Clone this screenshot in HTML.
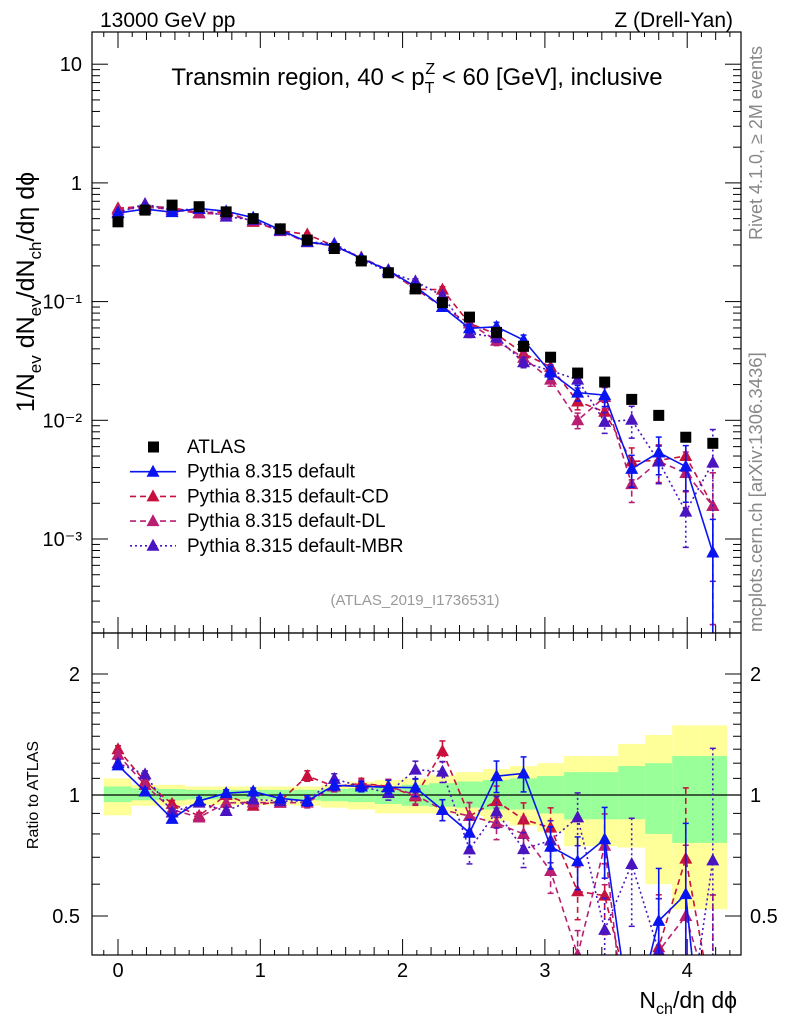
<!DOCTYPE html>
<html><head><meta charset="utf-8">
<style>
html,body{margin:0;padding:0;background:#fff;overflow:hidden;width:786px;height:1024px;}
svg{display:block;font-family:"Liberation Sans",sans-serif;}
</style></head>
<body>
<svg id="chart" width="786" height="1024" viewBox="0 0 786 1024" xmlns="http://www.w3.org/2000/svg">
<defs>
<clipPath id="cm"><rect x="92" y="32" width="649" height="601"/></clipPath>
<clipPath id="cr"><rect x="92" y="633" width="649" height="322"/></clipPath>
</defs>
<text x="100" y="27" font-size="21">13000 GeV pp</text>
<text x="733" y="27" font-size="21" text-anchor="end">Z (Drell-Yan)</text>
<text x="417" y="85" font-size="24" text-anchor="middle">Transmin region, 40 &lt; p<tspan font-size="16" dy="8">T</tspan><tspan font-size="16" dx="-9" dy="-19">Z</tspan><tspan dy="11"> &lt; 60 [GeV], inclusive</tspan></text>
<text transform="translate(762,240) rotate(-90)" font-size="18" fill="#888">Rivet 4.1.0, ≥ 2M events</text>
<text transform="translate(762,632) rotate(-90)" font-size="18.5" fill="#888">mcplots.cern.ch [arXiv:1306.3436]</text>
<text x="415" y="605" font-size="15" fill="#999" text-anchor="middle">(ATLAS_2019_I1736531)</text>
<text transform="translate(34,292) rotate(-90)" font-size="25" text-anchor="middle">1/N<tspan font-size="17" dy="7">ev</tspan><tspan dy="-7"> dN</tspan><tspan font-size="17" dy="7">ev</tspan><tspan dy="-7">/dN</tspan><tspan font-size="17" dy="7">ch</tspan><tspan dy="-7">/dη dϕ</tspan></text>
<text transform="translate(38,795) rotate(-90)" font-size="16" text-anchor="middle">Ratio to ATLAS</text>
<text x="737" y="1008" font-size="23" text-anchor="end">N<tspan font-size="16" dy="6">ch</tspan><tspan dy="-6">/dη dϕ</tspan></text>
<g id="bands" clip-path="url(#cr)"></g>
<g id="grid"></g>
<g id="mainMarks" clip-path="url(#cm)"></g>
<g id="ratioMarks" clip-path="url(#cr)"></g>
<rect x="92" y="32" width="649" height="601" fill="none" stroke="#000" stroke-width="1.2"/>
<rect x="92" y="633" width="649" height="322" fill="none" stroke="#000" stroke-width="1.2"/>
<g id="legend"></g>
</svg>
<script>
const xVals = [0,0.19,0.38,0.57,0.76,0.95,1.14,1.33,1.52,1.71,1.90,2.09,2.28,2.47,2.66,2.85,3.04,3.23,3.42,3.61,3.80,3.99,4.18];
const atlasVals = [0.47,0.59,0.65,0.63,0.57,0.50,0.41,0.33,0.28,0.22,0.175,0.128,0.098,0.074,0.055,0.042,0.034,0.025,0.021,0.015,0.011,0.0072,0.0064];
const defaultVals = [0.557,0.602,0.567,0.609,0.576,0.51,0.402,0.319,0.296,0.231,0.183,0.1335,0.090,0.0596,0.0613,0.0475,0.0253,0.0171,0.0163,0.0039,0.00535,0.00408,0.00077];
const cdVals = [0.611,0.637,0.618,0.559,0.57,0.47,0.396,0.368,0.294,0.235,0.184,0.127,0.126,0.0656,0.0531,0.0365,0.0282,0.0144,0.0118,0.0045,0.0046,0.0050,0.0019];
const dlVals = [0.592,0.625,0.598,0.554,0.545,0.479,0.392,0.316,0.294,0.233,0.184,0.128,0.090,0.0656,0.0468,0.0336,0.022,0.010,0.0157,0.0029,0.0045,0.0036,0.0019];
const mbrVals = [0.564,0.664,0.588,0.603,0.52,0.4875,0.396,0.319,0.307,0.231,0.177,0.148,0.112,0.0542,0.050,0.0308,0.0262,0.022,0.0097,0.0101,0.0045,0.0017,0.0044];
const modelRelErr = [0.02,0.02,0.02,0.02,0.02,0.02,0.02,0.03,0.03,0.03,0.04,0.05,0.06,0.08,0.09,0.10,0.12,0.15,0.2,0.3,0.35,0.5,0.9];
const binEdges = [-0.1,0.095,0.285,0.475,0.665,0.855,1.045,1.235,1.425,1.615,1.805,1.995,2.185,2.375,2.565,2.755,2.945,3.135,3.325,3.515,3.705,3.895,4.085,4.28];
const totUp = [1.10,1.06,1.06,1.05,1.05,1.05,1.05,1.05,1.06,1.08,1.09,1.10,1.12,1.14,1.16,1.18,1.20,1.25,1.25,1.34,1.41,1.49,1.49];
const totDn = [0.89,0.94,0.94,0.945,0.945,0.945,0.945,0.94,0.93,0.92,0.90,0.90,0.90,0.887,0.86,0.84,0.81,0.746,0.746,0.74,0.60,0.52,0.52];
const statUp = [1.05,1.04,1.035,1.03,1.03,1.03,1.03,1.03,1.035,1.04,1.05,1.06,1.07,1.08,1.09,1.10,1.115,1.14,1.14,1.18,1.20,1.25,1.25];
const statDn = [0.96,0.97,0.97,0.975,0.975,0.975,0.975,0.97,0.965,0.96,0.95,0.94,0.935,0.93,0.92,0.92,0.90,0.87,0.87,0.87,0.80,0.76,0.76];
const mainTickLabels = ["10⁻³","10⁻²","10⁻¹","1","10"];
const ratioTickLabels = ["0.5","1","2"];
const xTickLabels = ["0","1","2","3","4"];

const NS="http://www.w3.org/2000/svg";
function mk(tag,attrs,parent){const e=document.createElementNS(NS,tag);for(const k in attrs)e.setAttribute(k,attrs[k]);parent.appendChild(e);return e;}
const xp=v=>118+v*142.3;
const ym=v=>539-(Math.log10(Math.max(v,1e-6))+3)*118.7;
const yr=r=>795-Math.log10(Math.max(r,1e-3))*402;

const bands=document.getElementById('bands');
for(let i=0;i<totUp.length;i++){
  const x0=xp(binEdges[i]),x1=xp(binEdges[i+1]);
  let r=mk('rect',{x:x0,y:yr(totUp[i]),width:x1-x0,height:yr(totDn[i])-yr(totUp[i]),fill:'#ffff99'},bands);
  
  
}
for(let i=0;i<statUp.length;i++){
  const x0=xp(binEdges[i]),x1=xp(binEdges[i+1]);
  let r=mk('rect',{x:x0,y:yr(statUp[i]),width:x1-x0,height:yr(statDn[i])-yr(statUp[i]),fill:'#99ff99'},bands);
  
  
}
let one=mk('line',{x1:92,x2:741,y1:yr(1),y2:yr(1),stroke:'#000','stroke-width':1.2},bands);



const g=document.getElementById('grid');
function tick(x1,y1,x2,y2){mk('line',{x1,y1,x2,y2,stroke:'#000','stroke-width':1},g);}
for(let d=-4;d<=1;d++){
  for(let m=1;m<=9;m++){
    const v=m*Math.pow(10,d);const y=ym(v);
    if(y<32||y>633)continue;
    const L=m===1?16:8;
    tick(92,y,92+L,y);tick(741,y,741-L,y);
  }
}
mainTickLabels.forEach((t,i)=>{
  const v=Math.pow(10,i-3);
  const tx=mk('text',{x:82,y:ym(v)+7,'font-size':20,'text-anchor':'end'},g);
  tx.textContent=t;
  
  
});
[0.4,0.5,0.6,0.7,0.8,0.9,1,1.1,1.2,1.3,1.4,1.5,1.6,1.7,1.8,1.9,2].forEach(r=>{
  const y=yr(r);const L=(r===0.5||r===1||r===2)?16:8;
  tick(92,y,92+L,y);tick(741,y,741-L,y);
});
ratioTickLabels.forEach(t=>{
  const r=parseFloat(t);
  const a=mk('text',{x:80,y:yr(r)+7,'font-size':20,'text-anchor':'end'},g);a.textContent=t;
  
  
  const b=mk('text',{x:750,y:yr(r)+7,'font-size':20},g);b.textContent=t;
  
  
});
for(let k=-0.1;k<=4.35;k+=0.1){
  const v=Math.round(k*10)/10;const x=xp(v);
  if(x<92||x>741)continue;
  const major=Math.abs(v-Math.round(v))<1e-6;
  const L=major?16:(Math.abs(v*5-Math.round(v*5))<1e-6?8:5);
  tick(x,633,x,633-L);tick(x,32,x,32+L);tick(x,955,x,955-L);tick(x,633,x,633+L);
}
xTickLabels.forEach(t=>{
  const tx=mk('text',{x:xp(parseFloat(t)),y:977,'font-size':20,'text-anchor':'middle'},g);
  tx.textContent=t;
  
  
});

const series=[
 {vals:cdVals,color:'#c8103c',dash:'6,4',name:'cd'},
 {vals:dlVals,color:'#b81f72',dash:'6,4',name:'dl'},
 {vals:mbrVals,color:'#4a14c0',dash:'2,3',name:'mbr'},
 {vals:defaultVals,color:'#0a14f0',dash:'',name:'default'}
];
const mm=document.getElementById('mainMarks'),rm=document.getElementById('ratioMarks');
function tri(x,y,c,p){return mk('polygon',{points:`${x},${y-7} ${x-6.5},${y+5} ${x+6.5},${y+5}`,fill:c},p);}
series.forEach(s=>{
  [[mm,ym],[rm,yr]].forEach(([par,yf],pi)=>{
    const ys=s.vals.map((v,i)=>pi===0?yf(v):yf(v/atlasVals[i]));
    const pts=xVals.map((x,i)=>xp(x)+','+ys[i]).join(' ');
    const pl=mk('polyline',{points:pts,fill:'none',stroke:s.color,'stroke-width':1.6,'stroke-dasharray':s.dash},par);
    
    
    xVals.forEach((x,i)=>{
      const v=pi===0?s.vals[i]:s.vals[i]/atlasVals[i];
      const e=modelRelErr[i];
      const y1=yf(v*(1+e)),y2=yf(Math.max(v*(1-e),1e-6));
      const X=xp(x);
      const eb=mk('line',{x1:X,x2:X,y1:y1,y2:y2,stroke:s.color,'stroke-width':1.6,'stroke-dasharray':s.dash},par);
      
      
      mk('line',{x1:X-3,x2:X+3,y1:y1,y2:y1,stroke:s.color,'stroke-width':1.5},par);
      mk('line',{x1:X-3,x2:X+3,y1:y2,y2:y2,stroke:s.color,'stroke-width':1.5},par);
      const t=tri(X,yf(v),s.color,par);
      
      
    });
  });
});
atlasVals.forEach((v,i)=>{
  const r=mk('rect',{x:xp(xVals[i])-5.5,y:ym(v)-5.5,width:11,height:11,fill:'#000'},mm);
  
  
});

const lg=document.getElementById('legend');
const leg=[['ATLAS',null],['Pythia 8.315 default',series[3]],['Pythia 8.315 default-CD',series[0]],['Pythia 8.315 default-DL',series[1]],['Pythia 8.315 default-MBR',series[2]]];
leg.forEach((l,i)=>{
  const y=447+i*24.7;
  const ge=mk('g',{},lg);
  
  
  if(!l[1]){mk('rect',{x:148,y:y-5.5,width:11,height:11,fill:'#000'},ge);}
  else{mk('line',{x1:130,x2:176,y1:y,y2:y,stroke:l[1].color,'stroke-width':1.6,'stroke-dasharray':l[1].dash},ge);tri(153,y,l[1].color,ge);}
  const t=mk('text',{x:187,y:y+6,'font-size':19},ge);t.textContent=l[0];
});
</script>
</body></html>
